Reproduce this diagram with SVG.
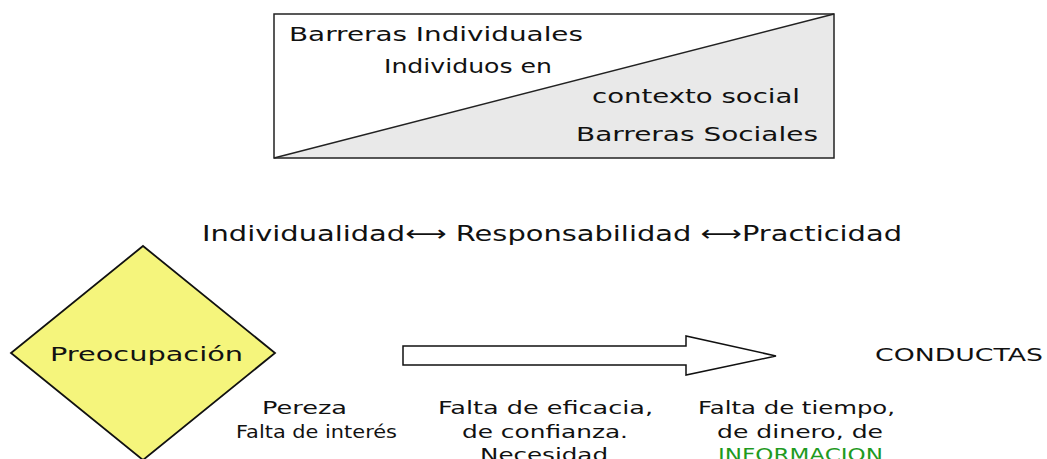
<svg xmlns="http://www.w3.org/2000/svg" width="1047" height="459" viewBox="0 0 1047 459">
<style>
text{font-family:"DejaVu Sans","Liberation Sans",sans-serif;fill:#111}
.t19{font-size:19px}
.t22{font-size:22px}
.t17{font-size:17px}
.green{fill:#1f9a1f}
</style>
<rect width="1047" height="459" fill="#fff"/>
<g id="barreras">
<rect x="274" y="14" width="560" height="144" fill="#fff"/>
<polygon points="274,158 834,14 834,158" fill="#e9e9e9"/>
<rect x="274" y="14" width="560" height="144" fill="none" stroke="#222" stroke-width="1.5"/>
<line x1="274" y1="158" x2="834" y2="14" stroke="#222" stroke-width="1.5"/>
<text class="t19" x="289" y="41" textLength="294" lengthAdjust="spacingAndGlyphs">Barreras Individuales</text>
<text class="t19" x="384" y="73" textLength="168" lengthAdjust="spacingAndGlyphs">Individuos en</text>
<text class="t19" x="592" y="103" textLength="208" lengthAdjust="spacingAndGlyphs">contexto social</text>
<text class="t19" x="576" y="141" textLength="242" lengthAdjust="spacingAndGlyphs">Barreras Sociales</text>
</g>
<g id="valores">
<text class="t22" x="202" y="241" textLength="700" lengthAdjust="spacingAndGlyphs">Individualidad⟷ Responsabilidad ⟷Practicidad</text>
</g>
<g id="preocupacion">
<polygon points="143,246 275,353 143,460 11,353" fill="#f5f57c" stroke="#111" stroke-width="1.8"/>
<text x="50" y="361" font-size="20" textLength="193" lengthAdjust="spacingAndGlyphs">Preocupación</text>
</g>
<g id="connectors">
<polygon points="403,346 686,346 686,336 776,356 686,375 686,365 403,365" fill="#fff" stroke="#111" stroke-width="1.5"/>
</g>
<g id="conductas">
<text x="875" y="361" font-size="18" textLength="168" lengthAdjust="spacingAndGlyphs">CONDUCTAS</text>
</g>
<g id="barrera1">
<text class="t17" x="262" y="414" textLength="85" lengthAdjust="spacingAndGlyphs">Pereza</text>
<text class="t17" x="236" y="438" textLength="161" lengthAdjust="spacingAndGlyphs">Falta de interés</text>
</g>
<g id="barrera2">
<text class="t17" x="438" y="414" textLength="215" lengthAdjust="spacingAndGlyphs">Falta de eficacia,</text>
<text class="t17" x="462" y="438" textLength="166" lengthAdjust="spacingAndGlyphs">de confianza.</text>
<text class="t17" x="480" y="461" textLength="128" lengthAdjust="spacingAndGlyphs">Necesidad</text>
</g>
<g id="barrera3">
<text class="t17" x="698" y="414" textLength="197" lengthAdjust="spacingAndGlyphs">Falta de tiempo,</text>
<text class="t17" x="717" y="438" textLength="166" lengthAdjust="spacingAndGlyphs">de dinero, de</text>
<text class="t17 green" x="718" y="461" textLength="165" lengthAdjust="spacingAndGlyphs">INFORMACION</text>
</g>
</svg>
